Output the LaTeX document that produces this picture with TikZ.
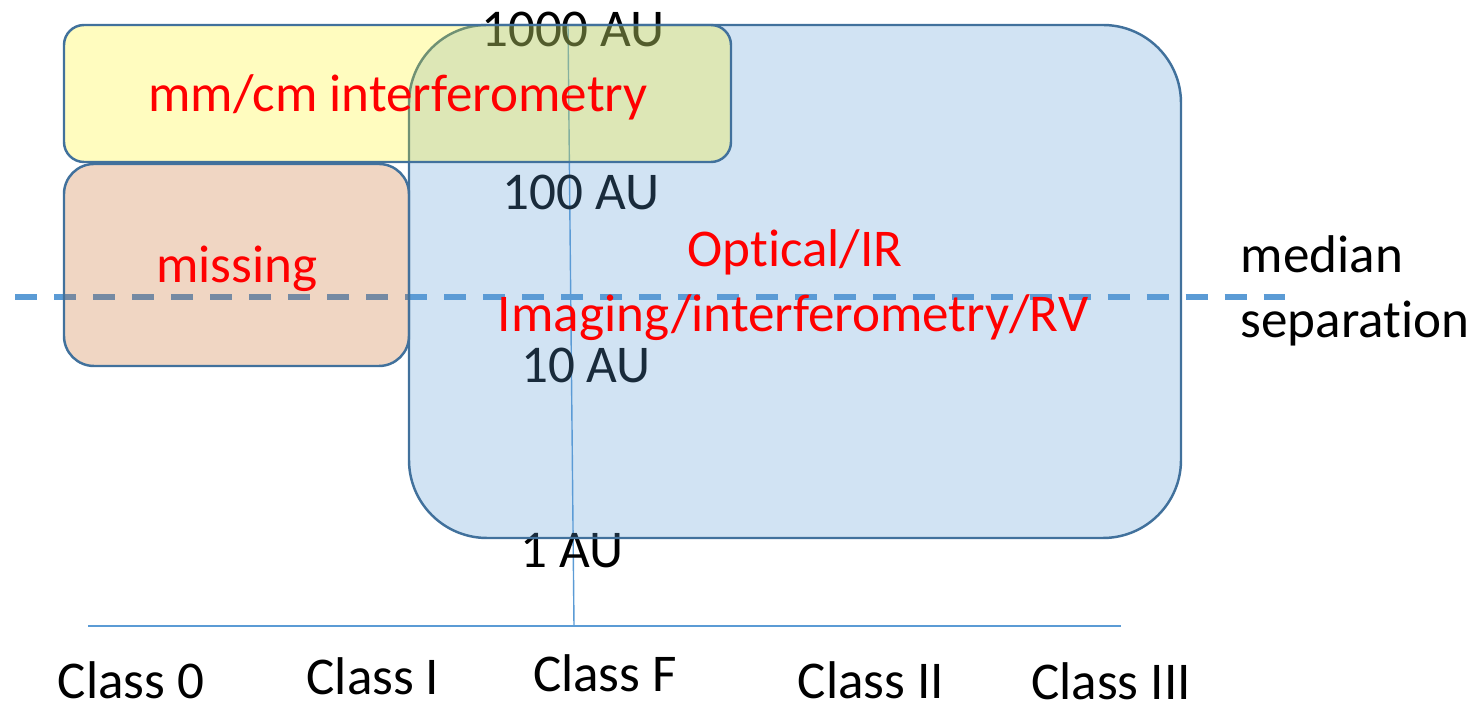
\documentclass[tikz,border=0pt]{standalone}
\usepackage{fontspec}
\setmainfont[Ligatures=NoCommon]{Carlito}
\definecolor{boxline}{HTML}{41719C}
\definecolor{accent}{HTML}{5B9BD5}
\definecolor{burnt}{HTML}{C55A11}
\tikzset{
  band/.style={draw=boxline, line width=0.7pt},
  axisline/.style={draw=accent, line width=0.4pt},
  medianline/.style={draw=accent, line width=1.6pt, dash pattern=on 0.22cm off 0.17cm},
  lbl/.style={anchor=base, inner sep=0pt, font=\fontsize{15.1}{18}\selectfont},
  method/.style={lbl, text=red},
  classlbl/.style={lbl, text depth=0pt},
}
\begin{document}
\begin{tikzpicture}[x=0.01cm, y=-0.01cm]
\useasboundingbox (0,0) rectangle (1484,704);
% axes
\coordinate (ytop) at (568,25);
\coordinate (ybot) at (574,626);
\coordinate (xleft) at (88,626);
\coordinate (xright) at (1121,626);
\draw[axisline] (ytop) -- (ybot);
\draw[axisline] (xleft) -- (xright);
% median separation
\coordinate (medL) at (15,297);
\coordinate (medR) at (1285,297);
\draw[medianline] (medL) -- (medR);
% separation scale
\node[lbl] (au1000) at (573,47) {1000 AU};
\node[lbl] (au100) at (581,210) {100 AU};
\node[lbl] (au10) at (586,383) {10 AU};
\node[lbl] (au1) at (572,568) {1 AU};
% boxes
\fill[accent, opacity=0.28, rounded corners=0.78cm] (409,25) rectangle (1181,538);
\draw[band, rounded corners=0.78cm] (409,25) rectangle (1181,538);
\fill[burnt, opacity=0.25, rounded corners=0.3cm] (64,164) rectangle (409,366);
\draw[band, rounded corners=0.3cm] (64,164) rectangle (409,366);
\fill[yellow, opacity=0.25, rounded corners=0.2cm] (64,25) rectangle (731,162);
\draw[band, rounded corners=0.2cm] (64,25) rectangle (731,162);
% methods
\node[method] (mmcm) at (398,112) {mm/cm interferometry};
\node[method] (missing) at (237,283) {missing};
\node[method] (optir) at (795,267) {Optical/IR};
\node[method] (imaging) at (793,332) {Imaging/interferometry/RV};
% legend
\node[lbl, anchor=base west] (median) at (1240,273) {median};
\node[lbl, anchor=base west] (separation) at (1240,338) {separation};
% classes
\node[classlbl] (class0) at (131,699) {Class 0};
\node[classlbl] (classI) at (373,695) {Class I};
\node[classlbl] (classF) at (605,692) {Class F};
\node[classlbl] (classII) at (871,699) {Class II};
\node[classlbl] (classIII) at (1111,700) {Class III};
\end{tikzpicture}
\end{document}
